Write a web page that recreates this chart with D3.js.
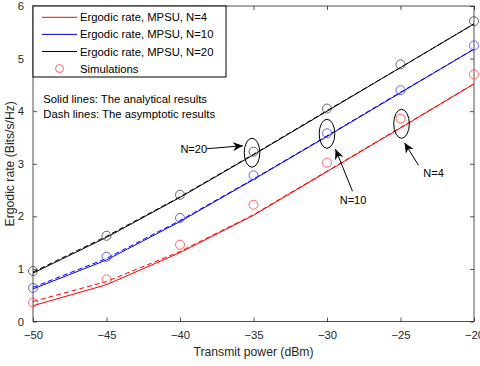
<!DOCTYPE html>
<html>
<head>
<meta charset="utf-8">
<script src="https://cdn.jsdelivr.net/npm/d3@7"></script>
<style>
  body { margin: 0; background: #fff; }
  text { font-family: "Liberation Sans", Arial, sans-serif; }
</style>
</head>
<body>
<div id="chart"></div>
<script>
const MARGIN = {top: 6, right: 6, bottom: 44.5, left: 33};
const WIDTH = 480 - MARGIN.left - MARGIN.right;
const HEIGHT = 366 - MARGIN.top - MARGIN.bottom;

// transmit power (dBm)
const power = [-50, -45, -40, -35, -30, -25, -20];

// analytical results (solid)
const analyticN4  = [0.30, 0.70, 1.31, 2.02, 2.85, 3.68, 4.52];
const analyticN10 = [0.62, 1.17, 1.90, 2.70, 3.52, 4.35, 5.18];
const analyticN20 = [0.92, 1.60, 2.36, 3.17, 4.00, 4.83, 5.66];

// asymptotic results (dashed)
const asymN4  = [0.38, 0.76, 1.33, 2.03, 2.86, 3.69, 4.52];
const asymN10 = [0.65, 1.20, 1.92, 2.71, 3.53, 4.36, 5.18];
const asymN20 = [0.94, 1.62, 2.37, 3.18, 4.01, 4.83, 5.66];

// simulations (circles)
const simN4  = [0.36, 0.80, 1.46, 2.22, 3.02, 3.86, 4.70];
const simN10 = [0.64, 1.23, 1.97, 2.78, 3.58, 4.40, 5.25];
const simN20 = [0.96, 1.63, 2.41, 3.23, 4.05, 4.89, 5.71];

const xTicks = [-50, -45, -40, -35, -30, -25, -20];
const yTicks = [0, 1, 2, 3, 4, 5, 6];

const series = [
  {name: "Ergodic rate, MPSU, N=4",  color: "#ff0000", simColor: "#ff4040", analytic: analyticN4,  asym: asymN4,  sim: simN4},
  {name: "Ergodic rate, MPSU, N=10", color: "#0000ff", simColor: "#4040ff", analytic: analyticN10, asym: asymN10, sim: simN10},
  {name: "Ergodic rate, MPSU, N=20", color: "#000000", simColor: "#404040", analytic: analyticN20, asym: asymN20, sim: simN20}
];

// ellipses + arrow annotations: ellipse at data (x, y); arrow tail/tip and label offsets in px
const notes = [
  {label: "N=20", x: -35.1, y: 3.21, tx: -45, ty: -4,  ax: -9,  ay: -7,  lx: -45, ly: 0,    anchor: "end"},
  {label: "N=10", x: -30.0, y: 3.57, tx: 25.5, ty: 57.5, ax: 8.5, ay: 15.5, lx: 26, ly: 70.5, anchor: "middle"},
  {label: "N=4",  x: -24.93, y: 3.76, tx: 17,  ty: 41.5, ax: 3,   ay: 19,  lx: 32,  ly: 53,   anchor: "middle"}
];

const AXIS_COLOR = "#262626";

const svg = d3.select("#chart")
  .append("svg")
    .attr("width", 480)
    .attr("height", 366);

svg.append("defs").append("marker")
    .attr("id", "arrow")
    .attr("viewBox", "0 0 10 10")
    .attr("refX", 10)
    .attr("refY", 5)
    .attr("markerWidth", 10)
    .attr("markerHeight", 10)
    .attr("markerUnits", "userSpaceOnUse")
    .attr("orient", "auto")
  .append("path")
    .attr("d", "M0,0.5 L10,5 L0,9.5 L3,5 Z")
    .attr("fill", "#000");

const g = svg.append("g")
    .attr("transform", `translate(${MARGIN.left},${MARGIN.top})`);

const x = d3.scaleLinear().domain([-50, -20]).range([0, WIDTH]);
const y = d3.scaleLinear().domain([0, 6]).range([HEIGHT, 0]);

// axes (ticks pointing inward, box on all sides)
const styleAxis = sel => {
  sel.select(".domain").remove();
  sel.selectAll("line").attr("stroke", AXIS_COLOR).attr("stroke-width", 0.8);
  sel.selectAll("text")
    .attr("fill", AXIS_COLOR)
    .style("font-size", "11.3px")
    .style("font-family", "'Liberation Sans', Arial, sans-serif");
};

g.append("g")
    .attr("transform", `translate(0,${HEIGHT})`)
    .call(d3.axisBottom(x).tickValues(xTicks).tickSize(-4).tickPadding(9).tickFormat(d3.format("d")))
    .call(styleAxis);

g.append("g")
    .call(d3.axisLeft(y).tickValues(yTicks).tickSize(-4).tickPadding(9).tickFormat(d3.format("d")))
    .call(styleAxis);

g.append("g")
    .call(d3.axisTop(x).tickValues(xTicks).tickSize(-4).tickFormat(""))
    .call(styleAxis);

g.append("g")
    .attr("transform", `translate(${WIDTH},0)`)
    .call(d3.axisRight(y).tickValues(yTicks).tickSize(-4).tickFormat(""))
    .call(styleAxis);

g.append("rect")
    .attr("width", WIDTH)
    .attr("height", HEIGHT)
    .attr("fill", "none")
    .attr("stroke", AXIS_COLOR)
    .attr("stroke-width", 0.8);

const line = d3.line()
  .x((d, i) => x(power[i]))
  .y(d => y(d));

series.forEach(s => {
  g.append("path")
      .datum(s.asym)
      .attr("d", line)
      .attr("fill", "none")
      .attr("stroke", s.color)
      .attr("stroke-width", 1)
      .attr("stroke-dasharray", "5,3");

  g.append("path")
      .datum(s.analytic)
      .attr("d", line)
      .attr("fill", "none")
      .attr("stroke", s.color)
      .attr("stroke-width", 1);

  g.selectAll(null)
    .data(s.sim)
    .enter().append("circle")
      .attr("cx", (d, i) => x(power[i]))
      .attr("cy", d => y(d))
      .attr("r", 4.5)
      .attr("fill", "none")
      .attr("stroke", s.simColor)
      .attr("stroke-width", 0.8);
});

// annotations
notes.forEach(n => {
  const cx = x(n.x), cy = y(n.y);
  g.append("ellipse")
      .attr("cx", cx)
      .attr("cy", cy)
      .attr("rx", 7.8)
      .attr("ry", 14.5)
      .attr("fill", "none")
      .attr("stroke", "#000")
      .attr("stroke-width", 1);

  g.append("line")
      .attr("x1", cx + n.tx)
      .attr("y1", cy + n.ty)
      .attr("x2", cx + n.ax)
      .attr("y2", cy + n.ay)
      .attr("stroke", "#000")
      .attr("stroke-width", 1)
      .attr("marker-end", "url(#arrow)");

  g.append("text")
      .attr("x", cx + n.lx)
      .attr("y", cy + n.ly)
      .attr("text-anchor", n.anchor)
      .style("font-size", "11px")
      .attr("fill", "#000")
      .text(n.label);
});

// notes text
g.append("text")
    .attr("x", 10.3)
    .attr("y", 96.7)
    .style("font-size", "11.3px")
    .text("Solid lines: The analytical results");
g.append("text")
    .attr("x", 10.3)
    .attr("y", 112.3)
    .style("font-size", "11.3px")
    .text("Dash lines: The asymptotic results");

// legend
const legend = g.append("g");
legend.append("rect")
    .attr("x", 0)
    .attr("y", 0)
    .attr("width", 193)
    .attr("height", 71)
    .attr("fill", "#fff")
    .attr("stroke", "#000")
    .attr("stroke-width", 1);

const legendItems = series.map(s => ({name: s.name, color: s.color, type: "line"}))
  .concat([{name: "Simulations", color: "#ff4040", type: "circle"}]);

legendItems.forEach((d, i) => {
  const ly = 11.3 + i * 17.1;
  if (d.type === "line") {
    legend.append("line")
        .attr("x1", 9).attr("x2", 44)
        .attr("y1", ly).attr("y2", ly)
        .attr("stroke", d.color)
        .attr("stroke-width", 1);
  } else {
    legend.append("circle")
        .attr("cx", 26.5).attr("cy", ly)
        .attr("r", 4)
        .attr("fill", "none")
        .attr("stroke", d.color)
        .attr("stroke-width", 0.8);
  }
  legend.append("text")
      .attr("x", 47)
      .attr("y", ly + 4)
      .style("font-size", "11.3px")
      .attr("fill", "#000")
      .text(d.name);
});

// axis titles
svg.append("text")
    .attr("x", MARGIN.left + WIDTH / 2)
    .attr("y", 355.5)
    .attr("text-anchor", "middle")
    .style("font-size", "12.2px")
    .attr("fill", AXIS_COLOR)
    .text("Transmit power (dBm)");

svg.append("text")
    .attr("transform", "rotate(-90)")
    .attr("x", -(MARGIN.top + HEIGHT / 2))
    .attr("y", 14)
    .attr("text-anchor", "middle")
    .style("font-size", "12.2px")
    .attr("fill", AXIS_COLOR)
    .text("Ergodic rate (Bits/s/Hz)");
</script>
</body>
</html>
